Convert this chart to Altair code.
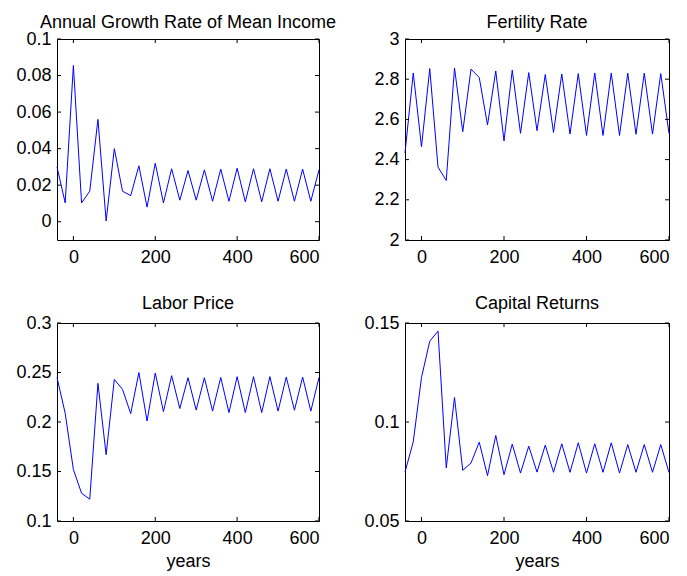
import altair as alt
import pandas as pd

FONT = "Liberation Sans"

years = list(range(-40, 601, 20))

growth = [0.030, 0.0103, 0.0855, 0.0103, 0.0167, 0.056, 0.0004, 0.040, 0.0167, 0.0143,
          0.0306, 0.008, 0.032, 0.0103, 0.029, 0.0118, 0.028, 0.0118, 0.0284, 0.0112,
          0.0288, 0.0112, 0.0293, 0.0109, 0.029, 0.0109, 0.029, 0.0112, 0.0288, 0.0112,
          0.0288, 0.0112, 0.0284]

fertility = [2.433, 2.831, 2.464, 2.853, 2.363, 2.296, 2.856, 2.539, 2.85, 2.808,
             2.572, 2.841, 2.493, 2.845, 2.531, 2.833, 2.544, 2.823, 2.535, 2.826,
             2.527, 2.828, 2.52, 2.831, 2.52, 2.831, 2.52, 2.83, 2.526, 2.83,
             2.527, 2.828, 2.53]

labor = [0.245, 0.2088, 0.152, 0.128, 0.122, 0.239, 0.167, 0.243, 0.233, 0.2085,
         0.250, 0.201, 0.2495, 0.2105, 0.2468, 0.2136, 0.2447, 0.212, 0.2447, 0.211,
         0.245, 0.2095, 0.2458, 0.2095, 0.2458, 0.2095, 0.2458, 0.211, 0.2454, 0.2119,
         0.2454, 0.211, 0.245]

capital = [0.0747, 0.090, 0.1225, 0.1408, 0.1459, 0.0768, 0.1124, 0.0756, 0.0793, 0.0898,
           0.0729, 0.0932, 0.0734, 0.0888, 0.0742, 0.0878, 0.0747, 0.0883, 0.0746, 0.089,
           0.0746, 0.0895, 0.0742, 0.089, 0.0746, 0.0895, 0.0742, 0.0886, 0.0746, 0.0886,
           0.0746, 0.0886, 0.0745]

x_ticks = [0, 200, 400, 600]
x_domain = [-40, 600]

titles = ["Annual Growth Rate of Mean Income", "Fertility Rate", "Labor Price", "Capital Returns"]
y_domains = [[-0.01, 0.1], [2, 3], [0.1, 0.3], [0.05, 0.15]]
y_ticks = [[0, 0.02, 0.04, 0.06, 0.08, 0.1],
           [2, 2.2, 2.4, 2.6, 2.8, 3],
           [0.1, 0.15, 0.2, 0.25, 0.3],
           [0.05, 0.1, 0.15]]

TICK = 4
FS = 18


def panel(values, title, ydom, yt, w, h, xtitle, title_offset):
    df = pd.DataFrame({"year": years, "value": values})
    xscale = alt.Scale(domain=x_domain, nice=False, zero=False)
    yscale = alt.Scale(domain=ydom, nice=False, zero=False)
    xaxis = alt.Axis(values=x_ticks, format="~f", ticks=False, domain=False, grid=False,
                     labelPadding=8, titlePadding=5)
    yaxis = alt.Axis(values=yt, format="~f", ticks=False, domain=False, grid=False,
                     labelPadding=6)
    xenc = alt.X("year:Q", scale=xscale, axis=xaxis, title=xtitle)
    yenc = alt.Y("value:Q", scale=yscale, axis=yaxis, title=None)

    line = alt.Chart(df).mark_line(color="#0000ff", strokeWidth=1).encode(x=xenc, y=yenc)

    xt = pd.DataFrame({"year": x_ticks})
    yt_df = pd.DataFrame({"value": yt})
    bottom = alt.Chart(xt).mark_rule(color="black", strokeWidth=1).encode(
        x=xenc, y=alt.value(h), y2=alt.value(h - TICK))
    top = alt.Chart(xt).mark_rule(color="black", strokeWidth=1).encode(
        x=xenc, y=alt.value(0), y2=alt.value(TICK))
    left = alt.Chart(yt_df).mark_rule(color="black", strokeWidth=1).encode(
        y=yenc, x=alt.value(0), x2=alt.value(TICK))
    right = alt.Chart(yt_df).mark_rule(color="black", strokeWidth=1).encode(
        y=yenc, x=alt.value(w - TICK), x2=alt.value(w))

    return alt.layer(line, bottom, top, left, right).properties(
        width=w, height=h,
        title=alt.TitleParams(title, offset=title_offset, frame="group"))


p1 = panel(growth, titles[0], y_domains[0], y_ticks[0], 262, 201, None, -2)
p2 = panel(fertility, titles[1], y_domains[1], y_ticks[1], 264, 201, None, -2)
p3 = panel(labor, titles[2], y_domains[2], y_ticks[2], 262, 198, "years", 1)
p4 = panel(capital, titles[3], y_domains[3], y_ticks[3], 264, 198, "years", 1)

chart = alt.ConcatChart(
    concat=[p1, p2, p3, p4], columns=2,
    spacing=alt.RowColnumber(row=83, column=86), bounds="flush"
).properties(
    padding={"left": 7, "top": 5, "right": 0, "bottom": 0},
    background="white"
).configure_view(
    stroke="black", strokeWidth=1
).configure_axis(
    labelFont=FONT, labelFontSize=FS, labelColor="black",
    titleFont=FONT, titleFontSize=FS, titleFontWeight="normal", titleColor="black"
).configure_title(
    font=FONT, fontSize=FS, fontWeight="normal", color="black", anchor="middle"
)

chart.save("out.html", embed_options={"renderer": "svg", "actions": False})
